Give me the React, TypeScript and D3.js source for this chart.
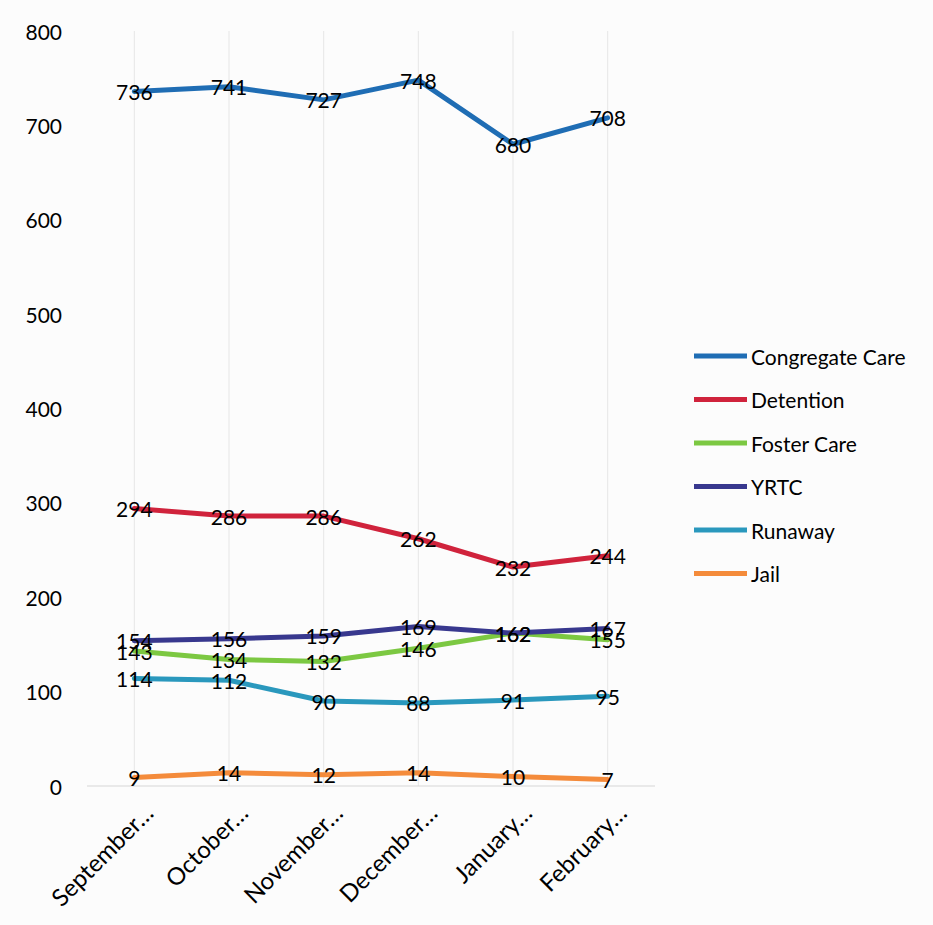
import React from "react";
import * as d3 from "d3";

const categories = ["September…", "October…", "November…", "December…", "January…", "February…"];
const seriesNames = ["Congregate Care", "Detention", "Foster Care", "YRTC", "Runaway", "Jail"];
const congregateCare = [736, 741, 727, 748, 680, 708];
const detention = [294, 286, 286, 262, 232, 244];
const fosterCare = [143, 134, 132, 146, 162, 155];
const yrtc = [154, 156, 159, 169, 162, 167];
const runaway = [114, 112, 90, 88, 91, 95];
const jail = [9, 14, 12, 14, 10, 7];
const yTicks = [0, 100, 200, 300, 400, 500, 600, 700, 800];
const colors = ["#1f6db4", "#d0233c", "#7cc842", "#38388e", "#2a98bd", "#f48b3b"];

const seriesValues = [congregateCare, detention, fosterCare, yrtc, runaway, jail];

export default function App() {
  const W = 933, H = 925;
  const x = d3.scaleBand<string>().domain(categories).range([87, 655]);
  const y = d3.scaleLinear().domain([0, 800]).range([786, 31]);
  const line = d3.line<number>()
    .x((_, i) => (x(categories[i]) as number) + x.bandwidth() / 2)
    .y((d) => y(d));
  const font = "Lato, 'Open Sans', sans-serif";
  const fs = 21;
  const cx = (i: number) => (x(categories[i]) as number) + x.bandwidth() / 2;
  const order = [5, 4, 2, 3, 1, 0];
  return (
    <svg width={W} height={H} style={{ position: "fixed", left: 0, top: 0, background: "#fdfdfd" }}>
      <rect x={0} y={0} width={W} height={H} fill="#fcfcfc" />
      {categories.map((c, i) => (
        <line key={c} x1={cx(i)} x2={cx(i)} y1={y(800)} y2={y(0)} stroke="#e6e6e6" strokeWidth={1} />
      ))}
      <line x1={87} x2={655} y1={y(0)} y2={y(0)} stroke="#d6d6d6" strokeWidth={1.2} />
      {yTicks.map((t) => (
        <text key={t} x={62} y={y(t)} textAnchor="end" dominantBaseline="central" fontFamily={font} fontSize={fs} fill="#000">
          {t}
        </text>
      ))}
      {order.map((si) => (
        <path key={seriesNames[si]} d={line(seriesValues[si]) || ""} fill="none" stroke={colors[si]} strokeWidth={5} strokeLinejoin="round" strokeLinecap="round" />
      ))}
      {order.map((si) =>
        seriesValues[si].map((v, i) => (
          <text key={seriesNames[si] + i} x={cx(i)} y={y(v)} textAnchor="middle" dominantBaseline="central" fontFamily={font} fontSize={fs} fill="#000">
            {v}
          </text>
        ))
      )}
      {categories.map((c, i) => (
        <text key={"xl" + c} transform={`translate(${cx(i) + 14},${808}) rotate(-45)`} textAnchor="end" dominantBaseline="central" fontFamily={font} fontSize={24} fill="#000">
          {c}
        </text>
      ))}
      {seriesNames.map((s, i) => (
        <g key={"lg" + s} transform={`translate(0,${356 + i * 43.5})`}>
          <line x1={694} x2={747} y1={0} y2={0} stroke={colors[i]} strokeWidth={5} />
          <text x={751} y={0} dominantBaseline="central" fontFamily={font} fontSize={fs} fill="#000">
            {s}
          </text>
        </g>
      ))}
    </svg>
  );
}
